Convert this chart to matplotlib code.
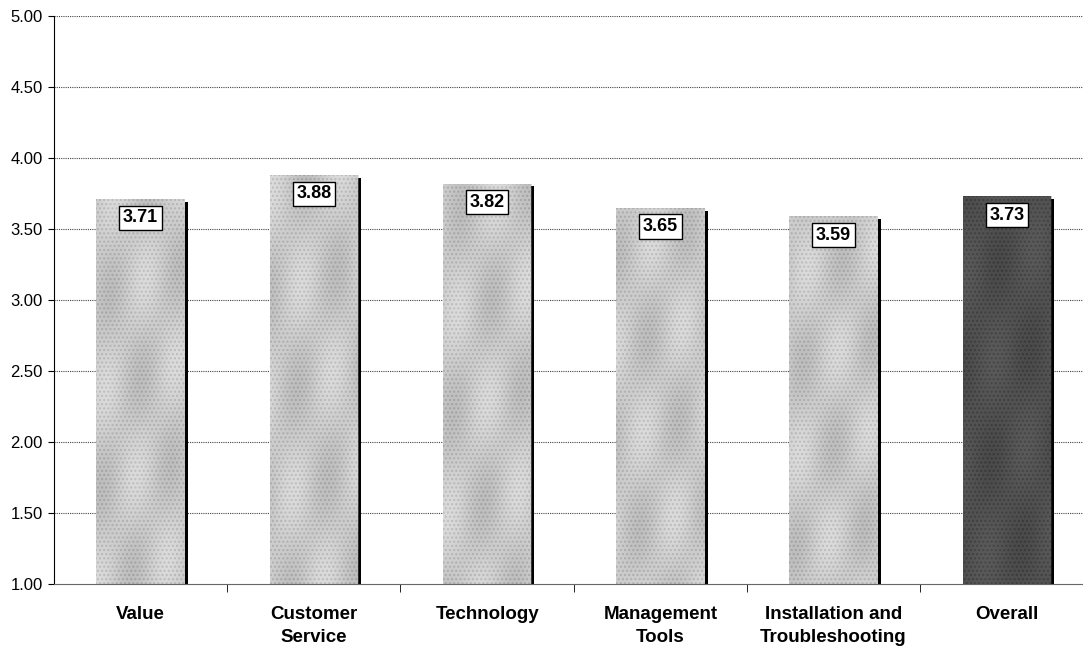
import numpy as np
import matplotlib.pyplot as plt

categories = ["Value", "Customer\nService", "Technology", "Management\nTools",
              "Installation and\nTroubleshooting", "Overall"]
scores = [3.71, 3.88, 3.82, 3.65, 3.59, 3.73]
yticks = [1.00, 1.50, 2.00, 2.50, 3.00, 3.50, 4.00, 4.50, 5.00]

plt.rcParams['font.family'] = ['Liberation Sans', 'DejaVu Sans']

fig = plt.figure(figsize=(10.83, 6.5), dpi=100)
ax = fig.add_axes([0.0499, 0.1015, 0.9501, 0.8738])

x = np.arange(len(categories))
width = 0.51
base = 1.0

ax.set_xlim(-0.5, 5.44)
ax.set_ylim(1.0, 5.0)

# gridlines behind everything
for t in yticks[1:]:
    ax.axhline(t, color='#444444', lw=0.8, ls=(0, (1, 1)), zorder=0)

for i, v in enumerate(scores):
    overall = categories[i] == "Overall"
    # drop shadow on the right side of each bar
    ax.bar(x[i] + 0.018, v - base - 0.02, width, bottom=base, color='black', zorder=1)
    bars = ax.bar(x[i], v - base, width, bottom=base,
                  color='#555555' if overall else '#d2d2d2',
                  hatch='....', edgecolor='#3a3a3a' if overall else '#a8a8a8',
                  linewidth=0, zorder=2)
    # mottled texture clipped to the bar
    yy, xx = np.mgrid[0:1:200j, 0:1:60j]
    tex = np.sin(xx * 9 + yy * 14 + i) + np.sin(xx * 7 - yy * 11 + 2 * i)
    img = ax.imshow(tex, extent=(x[i] - width / 2, x[i] + width / 2, base, v),
                    aspect='auto', cmap='gray', vmin=-8 if not overall else -6,
                    vmax=2.6 if not overall else 14, alpha=0.3, zorder=2.5,
                    interpolation='bilinear')
    img.set_clip_path(bars[0])
    ax.annotate(f"{v:.2f}", (x[i], v), xytext=(0, -13.5), textcoords='offset points',
                ha='center', va='center', fontsize=13, fontweight='bold',
                bbox=dict(boxstyle='square,pad=0.2', fc='white', ec='black', lw=1),
                zorder=5)

ax.set_yticks(yticks)
ax.set_yticklabels([f"{t:.2f}" for t in yticks], fontsize=12)
ax.set_xticks(x)
ax.set_xticklabels(categories, fontsize=13.5, fontweight='bold', linespacing=1.45)
ax.tick_params(axis='x', length=0, pad=16)
ax.set_xticks(np.arange(0.5, 5, 1), minor=True)
ax.tick_params(axis='x', which='minor', length=6, direction='out', color='black')
ax.tick_params(axis='y', length=4, direction='out', pad=4)

for s in ['top', 'right']:
    ax.spines[s].set_visible(False)
ax.spines['left'].set_color('black')
ax.spines['bottom'].set_color('#666666')

fig.savefig('out.png', dpi=100)
